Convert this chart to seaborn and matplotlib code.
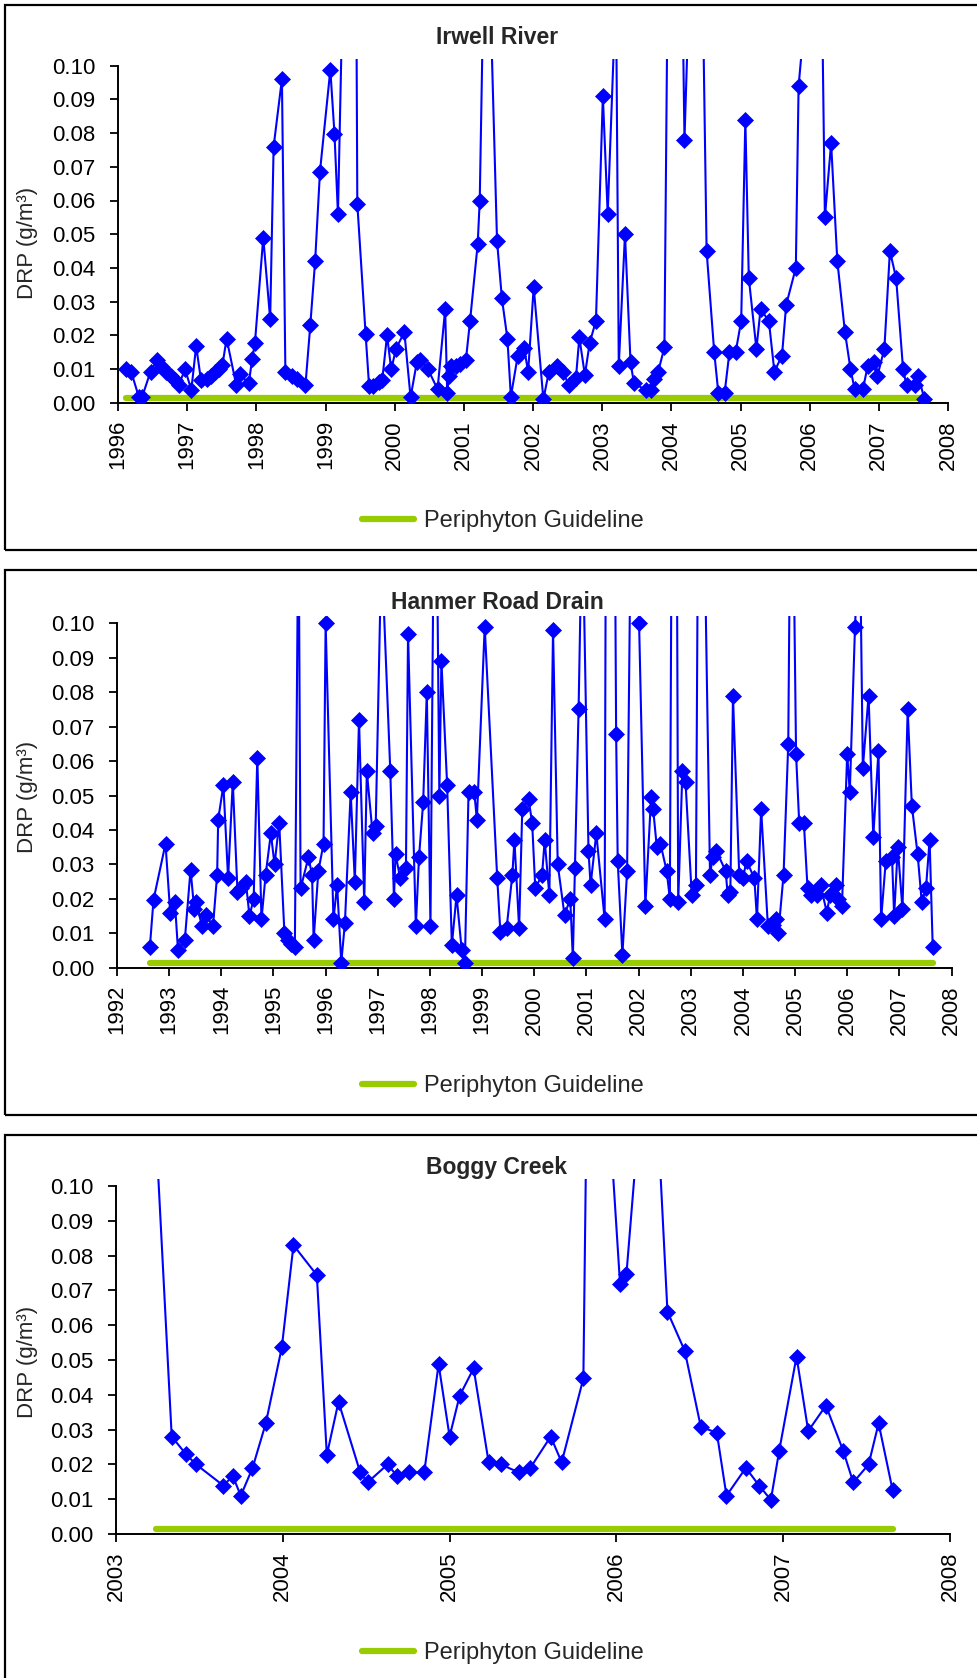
import numpy as np
import matplotlib
matplotlib.use("Agg")
import matplotlib.pyplot as plt
import seaborn as sns
from matplotlib.lines import Line2D
from matplotlib.patches import Rectangle

# ---------------- data (decimal year, DRP g/m3) ----------------
irwell_year = [
    1996.12, 1996.19, 1996.30, 1996.35, 1996.47, 1996.57, 1996.63, 1996.70, 1996.76, 1996.82,
    1996.88, 1996.97, 1997.06, 1997.13, 1997.20, 1997.29, 1997.35, 1997.40, 1997.46, 1997.51,
    1997.57, 1997.71, 1997.76, 1997.89, 1997.94, 1997.98, 1998.10, 1998.20, 1998.25, 1998.37,
    1998.42, 1998.52, 1998.59, 1998.71, 1998.78, 1998.85, 1998.92, 1999.07, 1999.13, 1999.18,
    1999.41, 1999.46, 1999.58, 1999.63, 1999.69, 1999.77, 1999.82, 1999.89, 1999.95, 2000.02,
    2000.14, 2000.23, 2000.32, 2000.37, 2000.48, 2000.62, 2000.73, 2000.76, 2000.78, 2000.82,
    2000.89, 2000.95, 2001.03, 2001.09, 2001.20, 2001.23, 2001.32, 2001.48, 2001.55, 2001.63,
    2001.68, 2001.78, 2001.87, 2001.93, 2002.01, 2002.15, 2002.23, 2002.34, 2002.43, 2002.52,
    2002.62, 2002.67, 2002.75, 2002.82, 2002.91, 2003.01, 2003.08, 2003.20, 2003.24, 2003.33,
    2003.41, 2003.46, 2003.63, 2003.70, 2003.75, 2003.81, 2003.90, 2004.03, 2004.19, 2004.39,
    2004.51, 2004.62, 2004.68, 2004.77, 2004.84, 2004.93, 2005.01, 2005.07, 2005.12, 2005.23,
    2005.29, 2005.41, 2005.49, 2005.60, 2005.66, 2005.80, 2005.84, 2006.15, 2006.22, 2006.31,
    2006.40, 2006.51, 2006.59, 2006.65, 2006.77, 2006.84, 2006.93, 2006.98, 2007.08, 2007.16,
    2007.25, 2007.35, 2007.40, 2007.53, 2007.57, 2007.66,
]
irwell_drp = [
    0.0099, 0.0092, 0.0018, 0.0018, 0.0092, 0.0127, 0.0105, 0.0090, 0.0078, 0.0066,
    0.0054, 0.0099, 0.0038, 0.0168, 0.0067, 0.0070, 0.0080, 0.0090, 0.0100, 0.0112,
    0.0190, 0.0052, 0.0085, 0.0057, 0.0129, 0.0178, 0.0490, 0.0248, 0.0760, 0.0960,
    0.0092, 0.0080, 0.0070, 0.0052, 0.0230, 0.0420, 0.0686, 0.0988, 0.0797, 0.0560,
    0.2800, 0.0590, 0.0203, 0.0050, 0.0050, 0.0062, 0.0067, 0.0200, 0.0099, 0.0160,
    0.0210, 0.0016, 0.0120, 0.0127, 0.0100, 0.0040, 0.0277, 0.0028, 0.0080, 0.0110,
    0.0110, 0.0115, 0.0127, 0.0243, 0.0470, 0.0600, 0.1670, 0.0480, 0.0310, 0.0190,
    0.0018, 0.0140, 0.0163, 0.0092, 0.0343, 0.0010, 0.0092, 0.0110, 0.0092, 0.0052,
    0.0072, 0.0194, 0.0082, 0.0178, 0.0243, 0.0910, 0.0560, 0.1230, 0.0110, 0.0500,
    0.0120, 0.0057, 0.0038, 0.0038, 0.0069, 0.0092, 0.0164, 0.3200, 0.0780, 0.2100,
    0.0450, 0.0150, 0.0028, 0.0028, 0.0150, 0.0150, 0.0243, 0.0840, 0.0370, 0.0160,
    0.0277, 0.0243, 0.0092, 0.0140, 0.0290, 0.0400, 0.0940, 0.1650, 0.0550, 0.0770,
    0.0420, 0.0210, 0.0100, 0.0040, 0.0040, 0.0110, 0.0120, 0.0080, 0.0160, 0.0450,
    0.0370, 0.0100, 0.0052, 0.0052, 0.0080, 0.0010,
]

hanmer_year = [
    1992.63, 1992.70, 1992.93, 1993.02, 1993.11, 1993.17, 1993.30, 1993.41, 1993.48, 1993.52,
    1993.63, 1993.71, 1993.84, 1993.92, 1993.94, 1994.04, 1994.13, 1994.22, 1994.31, 1994.38,
    1994.47, 1994.54, 1994.62, 1994.69, 1994.77, 1994.85, 1994.95, 1995.02, 1995.11, 1995.21,
    1995.28, 1995.34, 1995.41, 1995.48, 1995.52, 1995.67, 1995.74, 1995.77, 1995.86, 1995.96,
    1996.00, 1996.15, 1996.22, 1996.30, 1996.37, 1996.48, 1996.56, 1996.64, 1996.74, 1996.79,
    1996.90, 1996.96, 1997.07, 1997.24, 1997.31, 1997.34, 1997.43, 1997.54, 1997.58, 1997.73,
    1997.79, 1997.87, 1997.94, 1998.01, 1998.10, 1998.18, 1998.22, 1998.33, 1998.42, 1998.51,
    1998.61, 1998.67, 1998.74, 1998.85, 1998.90, 1999.05, 1999.29, 1999.35, 1999.47, 1999.58,
    1999.62, 1999.71, 1999.77, 1999.89, 1999.96, 2000.02, 2000.15, 2000.20, 2000.29, 2000.36,
    2000.45, 2000.58, 2000.69, 2000.74, 2000.78, 2000.85, 2000.92, 2001.04, 2001.08, 2001.19,
    2001.35, 2001.43, 2001.57, 2001.60, 2001.69, 2001.78, 2001.90, 2002.01, 2002.13, 2002.24,
    2002.28, 2002.35, 2002.42, 2002.54, 2002.60, 2002.69, 2002.76, 2002.84, 2002.90, 2003.02,
    2003.10, 2003.17, 2003.37, 2003.42, 2003.49, 2003.67, 2003.71, 2003.76, 2003.81, 2003.93,
    2004.00, 2004.07, 2004.22, 2004.27, 2004.35, 2004.48, 2004.57, 2004.63, 2004.68, 2004.78,
    2004.87, 2004.93, 2005.02, 2005.08, 2005.17, 2005.24, 2005.30, 2005.42, 2005.49, 2005.61,
    2005.67, 2005.78, 2005.82, 2005.90, 2006.00, 2006.05, 2006.15, 2006.24, 2006.30, 2006.41,
    2006.50, 2006.60, 2006.65, 2006.74, 2006.86, 2006.90, 2006.97, 2007.06, 2007.16, 2007.24,
    2007.35, 2007.43, 2007.51, 2007.58, 2007.64,
]
hanmer_drp = [
    0.0060, 0.0197, 0.0360, 0.0160, 0.0190, 0.0050, 0.0080, 0.0285, 0.0170, 0.0190,
    0.0120, 0.0153, 0.0120, 0.0270, 0.0430, 0.0530, 0.0260, 0.0540, 0.0220, 0.0230,
    0.0250, 0.0150, 0.0200, 0.0610, 0.0140, 0.0270, 0.0390, 0.0300, 0.0420, 0.0100,
    0.0080, 0.0070, 0.0060, 0.1370, 0.0230, 0.0320, 0.0270, 0.0080, 0.0280, 0.0360,
    0.1000, 0.0140, 0.0240, 0.0015, 0.0130, 0.0510, 0.0250, 0.0720, 0.0190, 0.0570,
    0.0390, 0.0410, 0.1220, 0.0570, 0.0200, 0.0330, 0.0260, 0.0290, 0.0970, 0.0120,
    0.0320, 0.0480, 0.0800, 0.0120, 0.1800, 0.0500, 0.0890, 0.0530, 0.0066, 0.0210,
    0.0050, 0.0015, 0.0510, 0.0510, 0.0430, 0.0990, 0.0260, 0.0105, 0.0115, 0.0270,
    0.0370, 0.0115, 0.0460, 0.0490, 0.0420, 0.0230, 0.0270, 0.0370, 0.0210, 0.0980,
    0.0300, 0.0153, 0.0200, 0.0027, 0.0290, 0.0750, 0.1340, 0.0340, 0.0240, 0.0390,
    0.0140, 0.4300, 0.0680, 0.0310, 0.0037, 0.0280, 0.2000, 0.1000, 0.0180, 0.0495,
    0.0460, 0.0350, 0.0360, 0.0280, 0.0200, 0.3150, 0.0190, 0.0570, 0.0540, 0.0210,
    0.0240, 0.2150, 0.0270, 0.0320, 0.0340, 0.0280, 0.0210, 0.0220, 0.0790, 0.0270,
    0.0260, 0.0310, 0.0260, 0.0140, 0.0460, 0.0120, 0.0125, 0.0140, 0.0100, 0.0270,
    0.0650, 0.1750, 0.0620, 0.0420, 0.0420, 0.0230, 0.0210, 0.0210, 0.0240, 0.0160,
    0.0210, 0.0240, 0.0200, 0.0180, 0.0620, 0.0510, 0.0990, 0.1300, 0.0580, 0.0790,
    0.0380, 0.0630, 0.0140, 0.0310, 0.0320, 0.0150, 0.0350, 0.0170, 0.0750, 0.0470,
    0.0330, 0.0190, 0.0230, 0.0370, 0.0060,
]

boggy_year = [
    2003.238, 2003.334, 2003.420, 2003.480, 2003.644, 2003.700, 2003.748, 2003.818, 2003.898, 2003.994,
    2004.064, 2004.204, 2004.264, 2004.334, 2004.464, 2004.508, 2004.628, 2004.684, 2004.758, 2004.848,
    2004.934, 2005.000, 2005.060, 2005.144, 2005.234, 2005.308, 2005.414, 2005.484, 2005.606, 2005.672,
    2005.802, 2005.842, 2006.022, 2006.060, 2006.205, 2006.306, 2006.410, 2006.506, 2006.602, 2006.660,
    2006.776, 2006.856, 2006.926, 2006.976, 2007.080, 2007.150, 2007.256, 2007.360, 2007.420, 2007.512,
    2007.572, 2007.656,
]
boggy_drp = [
    0.1170, 0.0280, 0.0229, 0.0200, 0.0139, 0.0167, 0.0110, 0.0189, 0.0318, 0.0536,
    0.0830, 0.0744, 0.0227, 0.0380, 0.0177, 0.0148, 0.0200, 0.0167, 0.0177, 0.0177,
    0.0488, 0.0280, 0.0397, 0.0476, 0.0206, 0.0200, 0.0177, 0.0190, 0.0280, 0.0206,
    0.0447, 0.2070, 0.0717, 0.0746, 0.1600, 0.0639, 0.0526, 0.0308, 0.0291, 0.0110,
    0.0190, 0.0139, 0.0098, 0.0239, 0.0510, 0.0296, 0.0369, 0.0239, 0.0148, 0.0200,
    0.0318, 0.0126,
]

titles = ["Irwell River", "Hanmer Road Drain", "Boggy Creek"]
guideline_value = 0.0015
guideline_label = "Periphyton Guideline"
y_label = "DRP (g/m\u00b3)"
y_ticks = [0.00, 0.01, 0.02, 0.03, 0.04, 0.05, 0.06, 0.07, 0.08, 0.09, 0.10]
x_ranges = [(1996, 2008), (1992, 2008), (2003, 2008)]

# ---------------- style ----------------
sns.set_style("ticks")
plt.rcParams['font.family'] = ['Liberation Sans', 'DejaVu Sans']

W, H = 977, 1678
fig = plt.figure(figsize=(W / 100, H / 100), dpi=100)


def fx(px):
    return px / W


def fy(py):
    return 1 - py / H


BLUE = "#0000FF"
GREEN = "#99CC00"
YTOP = 0.102

# pixel layout per panel: (x_left, y_for_0.10, x_right, y_for_0.00), box (top, bottom), title y, legend y
layouts = [
    dict(ax=(118, 65.7, 948, 402.7), box=(5, 550), title_y=37.5, legend_y=521, ylab_y=243),
    dict(ax=(117, 623.3, 951.5, 967.7), box=(570, 1115), title_y=602.5, legend_y=1086, ylab_y=797),
    dict(ax=(116, 1186, 950, 1534), box=(1135, 1720), title_y=1167.5, legend_y=1653, ylab_y=1362),
]
series = [(irwell_year, irwell_drp), (hanmer_year, hanmer_drp), (boggy_year, boggy_drp)]

for i, lay in enumerate(layouts):
    xl, y1, xr, y0 = lay["ax"]
    hpx = (y0 - y1) * YTOP / 0.10
    ax = fig.add_axes([fx(xl), fy(y0), (xr - xl) / W, hpx / H])
    years, vals = series[i]
    x0, x1 = x_ranges[i]

    # guideline
    sns.lineplot(x=[years[0], years[-1]], y=[guideline_value, guideline_value], ax=ax,
                 color=GREEN, linewidth=4.5, zorder=2, legend=False)
    # data
    sns.lineplot(x=years, y=vals, ax=ax, sort=False, estimator=None, color=BLUE,
                 linewidth=1.5, marker="D", markersize=8.5, markeredgecolor=BLUE,
                 markerfacecolor=BLUE, markeredgewidth=0.5, zorder=3, legend=False)

    ax.set_xlim(x0, x1)
    ax.set_ylim(0, YTOP)
    ax.set_xlabel("")
    ax.set_ylabel("")
    ax.set_yticks(y_ticks)
    ax.set_yticklabels([f"{v:.2f}" for v in y_ticks])
    xt = list(range(x0, x1 + 1))
    ax.set_xticks(xt)
    ax.set_xticklabels([str(v) for v in xt], rotation=90)
    for s in ["top", "right"]:
        ax.spines[s].set_visible(False)
    for s in ["left", "bottom"]:
        ax.spines[s].set_color("black")
        ax.spines[s].set_linewidth(1.4)
    ax.spines["left"].set_bounds(0, 0.10)
    ax.tick_params(axis="both", direction="out", length=5.5, width=1.3, colors="black",
                   labelsize=16)
    ax.tick_params(axis="y", pad=11)
    ax.tick_params(axis="x", pad=7)
    ax.set_facecolor("none")

    fig.text(fx(497), fy(lay["title_y"]), titles[i], ha="center", va="center",
             fontsize=16.5, fontweight="bold")
    fig.text(fx(27), fy(lay["ylab_y"]), y_label, ha="center", va="center",
             rotation=90, fontsize=16)
    handle = Line2D([0], [0], color=GREEN, lw=4.5)
    fig.legend(handles=[handle], labels=[guideline_label], loc="center",
               bbox_to_anchor=(fx(503), fy(lay["legend_y"])), frameon=False,
               fontsize=17, handlelength=2.2, handletextpad=0.4)

    top, bottom = lay["box"]
    fig.add_artist(Rectangle((fx(5), fy(bottom)), fx(1000), (bottom - top) / H,
                             transform=fig.transFigure, fill=False,
                             edgecolor="black", linewidth=1.6))

fig.savefig("out.png", dpi=100, facecolor="white")
